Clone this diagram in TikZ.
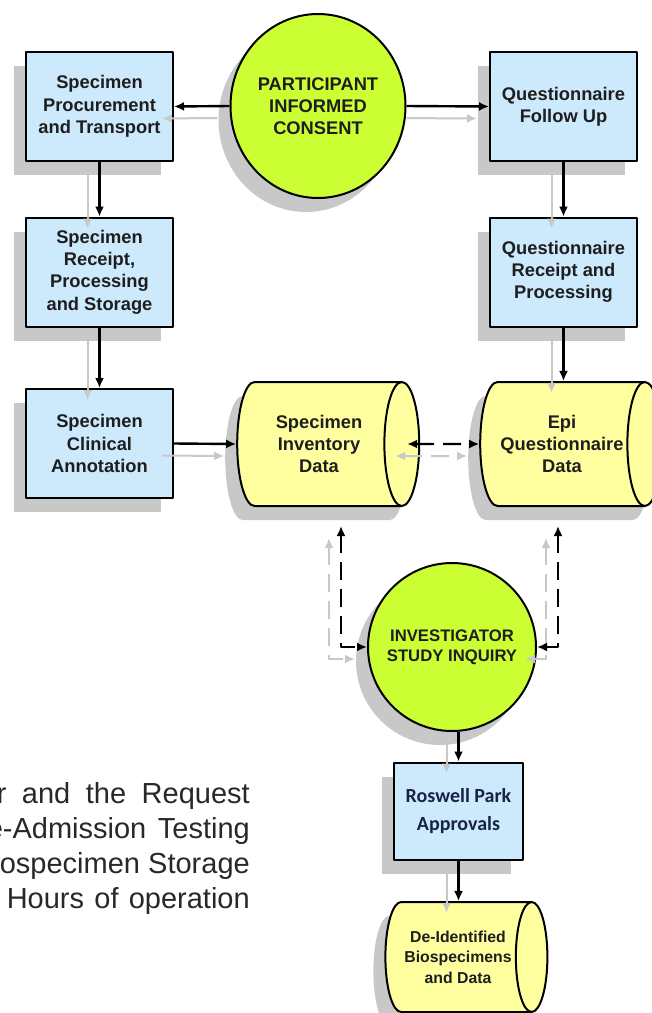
\documentclass[tikz,border=0pt]{standalone}
\usepackage{fontspec}
\setmainfont{Liberation Sans}
\newfontfamily\rpfont{Carlito}
\usetikzlibrary{shapes.geometric,shadows,arrows.meta,calc}

\definecolor{boxblue}{RGB}{204,234,252}
\definecolor{limegreen}{RGB}{204,255,51}
\definecolor{dbyellow}{RGB}{255,255,160}
\definecolor{shdgray}{RGB}{200,200,200}
\definecolor{inktext}{RGB}{30,30,30}
\definecolor{paratext}{RGB}{40,40,40}
\definecolor{rpnavy}{RGB}{25,35,70}

\tikzset{
  shd/.style={drop shadow={shadow xshift=-12pt,shadow yshift=-14pt,fill=shdgray,opacity=1}},
  boxfont/.style={font=\bfseries\fontsize{18.3}{22.3}\selectfont},
  proc/.style={rectangle,draw,line width=2pt,fill=boxblue,shd,minimum width=147pt,
    minimum height=109pt,inner sep=0pt,align=center,text=inktext,boxfont},
  % cylinder: width = diameter, height = length along the axis
  store/.style={cylinder,shape aspect=0.6,draw,line width=2pt,fill=dbyellow,shd,
    minimum width=124pt,minimum height=182pt,inner sep=0pt,align=center,text=inktext,boxfont},
  event/.style={ellipse,draw,line width=2pt,fill=limegreen,shd,inner sep=0pt,
    align=center,text=inktext},
  flow/.style={line width=2.4pt,->},
  ghost/.style={line width=2pt,draw=shdgray,->,transform canvas={shift={(-12pt,-12pt)}}},
  query/.style={dash pattern=on 18pt off 9pt},
  para/.style={inner sep=0pt,text=paratext,font=\fontsize{29}{35}\selectfont},
}

\begin{document}
\begin{tikzpicture}[x=1pt,y=-1pt,line join=round,>={Latex[length=10pt,width=9pt]}]
\useasboundingbox (0,0) rectangle (652,1013);

% consent and the two collection branches
\node[event,minimum width=175pt,minimum height=184pt,boxfont] (pic) at (318,106)
  {PARTICIPANT\\INFORMED\\CONSENT};
\node[proc] (spt) at (99.5,106.5) {Specimen\\Procurement\\and Transport};
\node[proc] (qfu) at (563.5,106.5) {Questionnaire\\Follow Up};
\node[proc] (srps) at (99.5,272) {Specimen\\Receipt,\\Processing\\and Storage};
\node[proc] (qrp) at (563.5,272) {Questionnaire\\Receipt and\\Processing};
\node[proc] (sca) at (99.5,443.5) {Specimen\\Clinical\\Annotation};

% data stores
\node[store] (sid) at (319,444) {Specimen\\Inventory\\Data};
\node[store] (eqd) at (562,444) {Epi\\Questionnaire\\Data};

% inquiry and release
\node[event,circle,minimum size=168pt,font=\bfseries\fontsize{16.7}{20}\selectfont] (inv)
  at (452,647) {INVESTIGATOR\\STUDY INQUIRY};
\node[proc,minimum width=129pt,minimum height=97pt,text=rpnavy,
  font=\rpfont\bfseries\fontsize{20}{28}\selectfont] (rpa) at (458.5,811) {Roswell Park\\Approvals};
\node[store,minimum width=110pt,minimum height=162pt,
  font=\bfseries\fontsize{15.8}{20.5}\selectfont] (deid) at (458,957)
  {De-Identified\\Biospecimens\\and Data};

\coordinate (sidq) at ($(sid.south)+(22,19)$);
\coordinate (eqdq) at ($(eqd.south)+(-4,19)$);

% grey copies of the connectors
\draw[ghost] (pic.west) -- (spt.east);
\draw[ghost,shorten <=12pt] (pic.east) -- (qfu.west);
\draw[ghost] (spt) -- (srps);
\draw[ghost] (qfu) -- (qrp);
\draw[ghost] (srps) -- (sca);
\draw[ghost] (qrp.south) -- (qrp.south |- eqd.north);
\draw[ghost] (sca.east) -- (sid.west);
\draw[ghost,query,<->] ([xshift=-13pt]sid.east) -- (eqd.west);
\draw[ghost,query,<->] (sidq) |- (inv.west);
\draw[ghost,query,<->] (eqdq) |- (inv.east);
\draw[ghost] (rpa.north |- inv.south) -- (rpa.north);
\draw[ghost] (rpa.south) -- (rpa.south |- deid.north);

% connectors
\draw[flow] (pic.west) -- (spt.east);
\draw[flow] (pic.east) -- (qfu.west);
\draw[flow] (spt) -- (srps);
\draw[flow] (qfu) -- (qrp);
\draw[flow] (srps) -- (sca);
\draw[flow] (qrp.south) -- (qrp.south |- eqd.north);
\draw[flow] (sca.east) -- (sid.west);
\draw[flow,query,<->] ([xshift=-13pt]sid.east) -- (eqd.west);
\draw[flow,query,<->] (sidq) |- (inv.west);
\draw[flow,query,<->] (eqdq) |- (inv.east);
\draw[flow] (rpa.north |- inv.south) -- (rpa.north);
\draw[flow] (rpa.south) -- (rpa.south |- deid.north);

% text cut off at the left edge
\foreach \n/\y/\w/\t in {1/803/253/r and the Request,2/838/263/e-Admission Testing,
    3/873/250/ospecimen Storage,4/908/243/Hours of operation}
  \node[para,anchor=base east] (line\n) at (250,\y) {\makebox[\w pt][s]{\t}};
\end{tikzpicture}
\end{document}
